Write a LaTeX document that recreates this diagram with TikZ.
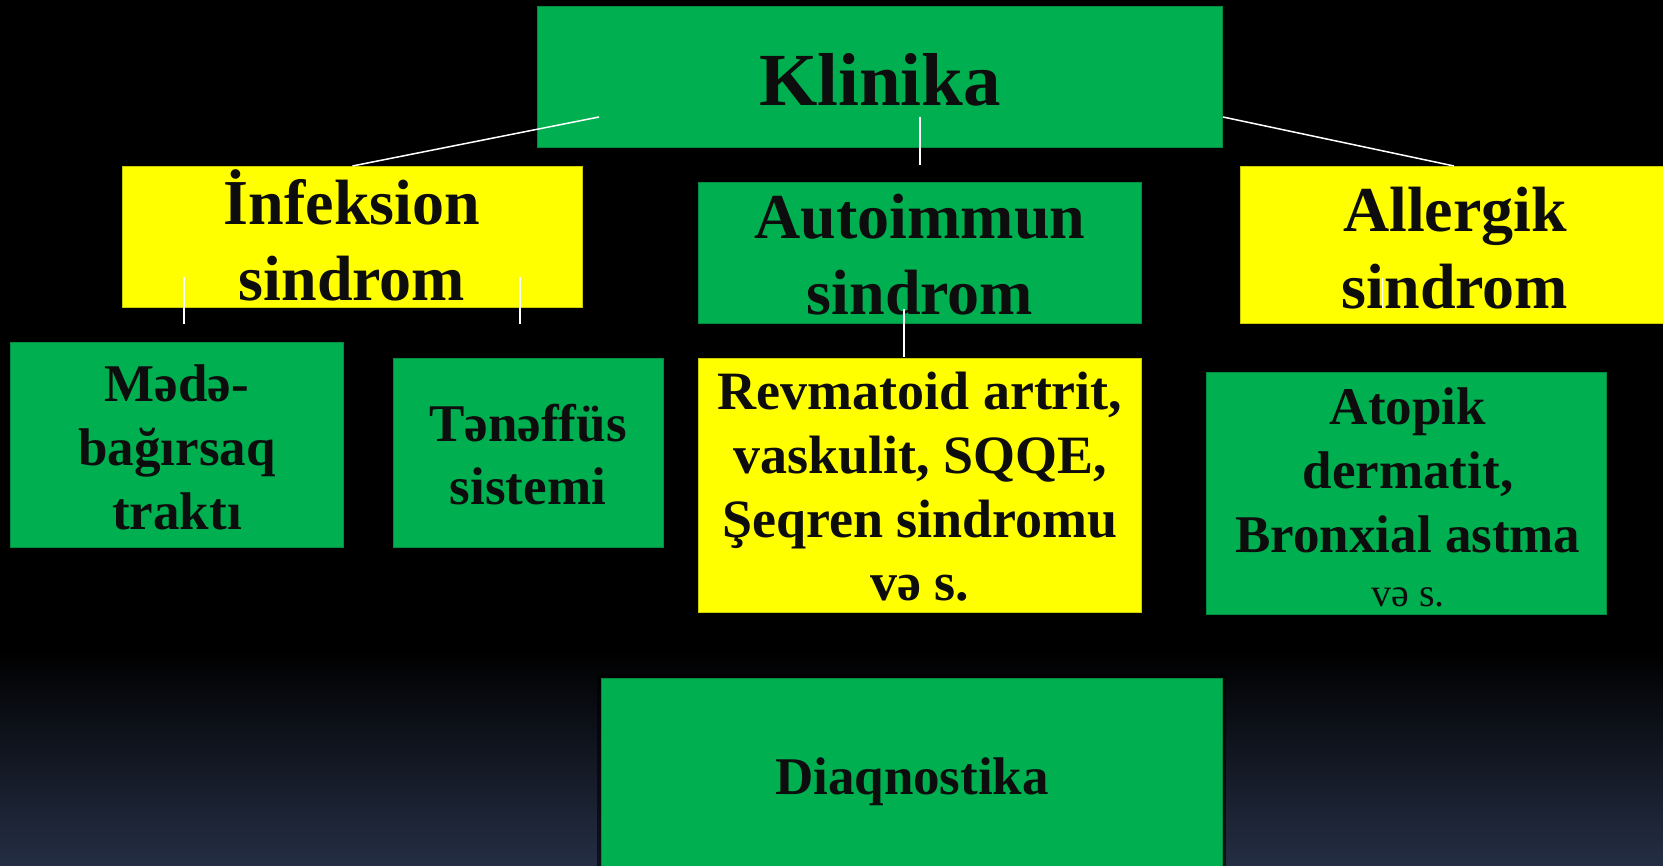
\documentclass[tikz,border=0pt]{standalone}
\usepackage{fontspec}
\setmainfont{Liberation Serif}
\definecolor{gbox}{HTML}{00B050}
\definecolor{ybox}{HTML}{FFFF00}
\definecolor{ink}{HTML}{0D0D0D}
\definecolor{navy}{HTML}{242E44}
\tikzset{
  gbx/.style={draw=gbox!80!black, line width=0.8pt, fill=gbox, inner sep=0pt, anchor=north west},
  ybx/.style={draw=ybox!80!black, line width=0.8pt, fill=ybox, inner sep=0pt, anchor=north west},
  lbl/.style={text=ink, align=center, inner sep=0pt},
  conn/.style={draw=white, line width=1.5pt},
}
\begin{document}
\begin{tikzpicture}[x=1pt,y=-1pt]
\useasboundingbox (0,0) rectangle (1663,866);
\fill[black] (0,0) rectangle (1663,866);
\shade[top color=black, bottom color=navy] (0,650) rectangle (1663,866);

% boxes
\node[gbx, minimum width=685pt, minimum height=141pt] (klin) at (537,6) {};
\node[ybx, minimum width=460pt, minimum height=141pt] (inf) at (122,166) {};
\node[gbx, minimum width=443pt, minimum height=141pt] (auto) at (698,182) {};
\node[ybx, minimum width=430pt, minimum height=157pt] (all) at (1240,166) {};
\node[gbx, minimum width=333pt, minimum height=205pt] (mede) at (10,342) {};
\node[gbx, minimum width=270pt, minimum height=189pt] (ten) at (393,358) {};
\node[ybx, minimum width=443pt, minimum height=254pt] (rev) at (698,358) {};
\node[gbx, minimum width=400pt, minimum height=242pt] (ato) at (1206,372) {};
\fill[black, opacity=0.6] (597,674) rectangle (1226,870);
\node[gbx, minimum width=621pt, minimum height=192pt] (diag) at (601,678) {};

% labels
\node[lbl, font={\fontsize{75}{90}\selectfont\bfseries}, anchor=base] (klint) at (880,106) {Klinika};
\node[lbl, font={\fontsize{64}{76}\selectfont\bfseries}] (inft) at (352,235) {İnfeksion\\sindrom};
\node[lbl, font={\fontsize{64}{76}\selectfont\bfseries}] (autot) at (920,255) {Autoimmun\\sindrom};
\node[lbl, font={\fontsize{64}{77}\selectfont\bfseries}] (allt) at (1455,248) {Allergik\\sindrom};
\node[lbl, font={\fontsize{53}{64}\selectfont\bfseries}] (medet) at (177,447) {Mədə-\\bağırsaq\\traktı};
\node[lbl, font={\fontsize{53}{63}\selectfont\bfseries}] (tent) at (528,455) {Tənəffüs\\sistemi};
\node[lbl, font={\fontsize{54}{63.6}\selectfont\bfseries}] (revt) at (920,487) {Revmatoid artrit,\\vaskulit, SQQE,\\Şeqren sindromu\\və s.};
\node[lbl, font={\fontsize{53}{64}\selectfont\bfseries}] (atot) at (1408,497) {Atopik\\dermatit,\\Bronxial astma\\[-10pt]{\fontsize{40}{48}\selectfont\mdseries və s.}};
\node[lbl, font={\fontsize{53}{64}\selectfont\bfseries}, anchor=base] (diagt) at (912,794) {Diaqnostika};

% connectors
\coordinate (k1) at (599,117);
\coordinate (k2) at (920,117);
\coordinate (k2e) at (920,165);
\coordinate (k3) at (1223,117);
\coordinate (i1) at (184,277);
\coordinate (i1e) at (184,324);
\coordinate (i2) at (520,277);
\coordinate (i2e) at (520,324);
\coordinate (a1) at (904,309);
\coordinate (a1e) at (904,357);
\coordinate (l1) at (1382,278);
\coordinate (l1e) at (1382,308);
\draw[conn] (k1) -- (inf.north);
\draw[conn] (k2) -- (k2e);
\draw[conn] (k3) -- (all.north -| 1454,0);
\draw[conn] (i1) -- (i1e);
\draw[conn] (i2) -- (i2e);
\draw[conn] (a1) -- (a1e);
\draw[conn, line width=1pt] (l1) -- (l1e);
\end{tikzpicture}
\end{document}
